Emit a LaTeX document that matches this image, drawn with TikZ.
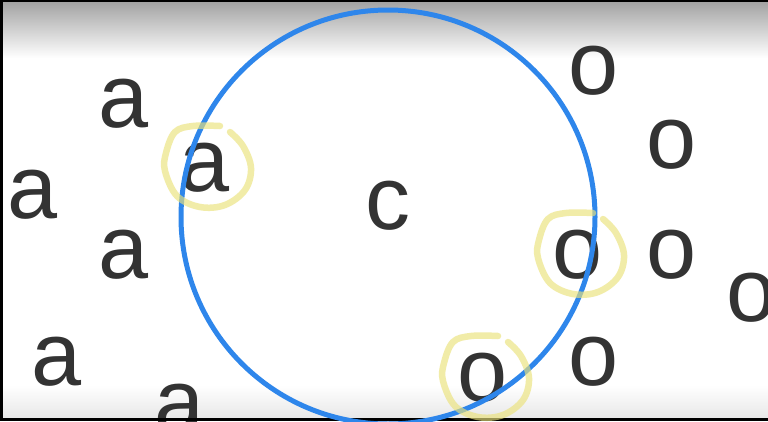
\documentclass[tikz,border=0pt]{standalone}
\usepackage{fontspec}
\setmainfont{Liberation Sans}
\usepackage{xcolor}
\definecolor{inkgray}{RGB}{51,51,51}
\definecolor{ringblue}{RGB}{46,134,235}
\definecolor{markyel}{RGB}{235,226,122}

\begin{document}
\begin{tikzpicture}[x=1pt,y=-1pt,
    letter/.style={inner sep=0pt,text=inkgray,font=\fontsize{90}{90}\selectfont},
    ring/.style={draw=ringblue,line width=5pt},
    hlmark/.style={draw=markyel,draw opacity=0.65,line width=6.5pt,line cap=round}]
  \useasboundingbox (0,0) rectangle (768,421);
  % screen edges
  \fill[black] (0,0) rectangle (768,421);
  \fill[white] (3,2) rectangle (768,418);
  \shade[top color=black!36,bottom color=white] (3,2) rectangle (768,58);
  \shade[top color=white,bottom color=black!9] (3,385) rectangle (768,418);
  % class a
  \node[letter] (a1) at (124,104) {a};
  \node[letter] (a2) at (205,168) {a};
  \node[letter] (a3) at (33,195) {a};
  \node[letter] (a4) at (124,255) {a};
  \node[letter] (a5) at (57,362) {a};
  \node[letter] (a6) at (180,409) {a};
  % class o
  \node[letter] (o1) at (594,71) {o};
  \node[letter] (o2) at (672,145) {o};
  \node[letter] (o3) at (578,255) {o};
  \node[letter] (o4) at (672,255) {o};
  \node[letter] (o5) at (752,298) {o};
  \node[letter] (o6) at (594,362) {o};
  \node[letter] (o7) at (483,378) {o};
  % centre
  \node[letter] (c) at (388,206) {c};
  \fill[black] (0,418) rectangle (768,421);
  \draw[ring] (388,217) circle (207);
  % highlighted points
  \foreach \n in {a2,o3,o7}
    \draw[hlmark,shift={(\n.center)}] plot[smooth,tension=0.6] coordinates
      {(15,-42) (-12,-42) (-30,-36) (-39,-15) (-40,3) (-28,28) (-5,39) (20,37) (40,22) (46,0) (38,-22) (25,-36)};
\end{tikzpicture}
\end{document}
